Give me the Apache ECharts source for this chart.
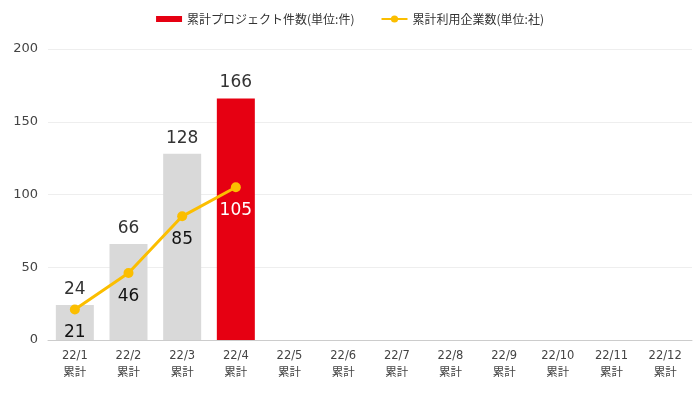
<!DOCTYPE html>
<html><head><meta charset="utf-8">
<script src="https://cdn.jsdelivr.net/npm/echarts@6/dist/echarts.min.js"></script>
<style>html,body{margin:0;padding:0;background:#fff}#c{width:700px;height:393px}</style>
</head><body><div id="c"></div>
<script>
const categories = ['22/1\n累計','22/2\n累計','22/3\n累計','22/4\n累計','22/5\n累計','22/6\n累計','22/7\n累計','22/8\n累計','22/9\n累計','22/10\n累計','22/11\n累計','22/12\n累計'];
const projects = [24, 66, 128, 166];
const companies = [21, 46, 85, 105];
const yTicks = [0, 50, 100, 150, 200];
const barName = '累計プロジェクト件数(単位:件)';
const lineName = '累計利用企業数(単位:社)';
const highlightIndex = 3;

const chart = echarts.init(document.getElementById('c'));
const cjk = '"Noto Sans CJK JP", "Noto Sans", sans-serif';
const num = '"DejaVu Sans", "Noto Sans CJK JP", sans-serif';
chart.setOption({
  animation: false,
  textStyle: {fontFamily: num},
  legend: {
    top: 8, left: 'center', itemGap: 26, itemWidth: 26, itemHeight: 9,
    textStyle: {fontSize: 12, color: '#333', fontFamily: cjk},
    data: [{name: barName, icon: 'path://M0,0h26v6h-26z'}, {name: lineName}]
  },
  grid: {left: 48, right: 8, top: 49, bottom: 53},
  xAxis: {
    type: 'category', data: categories,
    axisLine: {lineStyle: {color: '#ccc'}},
    axisTick: {show: false},
    axisLabel: {color: '#444', fontSize: 11.5, lineHeight: 17, margin: 8, fontFamily: num}
  },
  yAxis: {
    type: 'value', min: yTicks[0], max: yTicks[yTicks.length-1], interval: 50,
    axisLabel: {color: '#444', fontSize: 13, margin: 10, fontFamily: num},
    splitLine: {lineStyle: {color: '#eee'}}
  },
  series: [
    {
      name: barName, type: 'bar', barWidth: 38,
      itemStyle: {color: '#e60012'},
      data: projects.map((v, i) => ({value: v, itemStyle: {color: i === highlightIndex ? '#e60012' : '#d9d9d9'}})),
      label: {show: true, position: 'top', distance: 7, fontSize: 17, color: '#333', fontFamily: num}
    },
    {
      name: lineName, type: 'line', symbol: 'circle', symbolSize: 10,
      itemStyle: {color: '#fbbe00'}, lineStyle: {color: '#fbbe00', width: 3},
      data: companies.map((v, i) => ({value: v, label: {color: i === highlightIndex ? '#fff' : '#111'}})),
      label: {show: true, position: 'bottom', distance: 10, fontSize: 17, fontFamily: num}
    }
  ]
});
</script></body></html>
